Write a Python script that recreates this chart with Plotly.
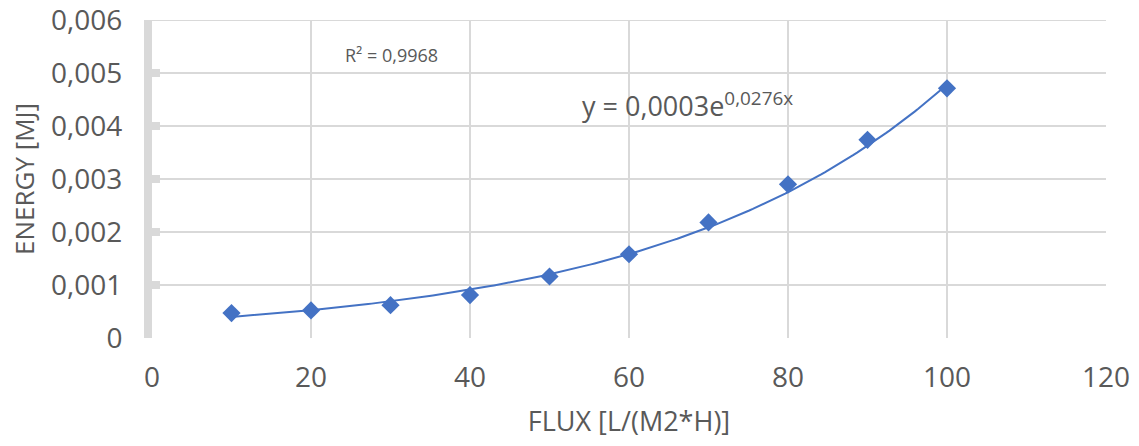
import numpy as np
import plotly.graph_objects as go

flux = [10, 20, 30, 40, 50, 60, 70, 80, 90, 100]
energy = [0.00047, 0.00052, 0.00062, 0.00081, 0.00116, 0.00158, 0.00218, 0.0029, 0.00374, 0.00471]
x_ticks = [0, 20, 40, 60, 80, 100, 120]
y_ticks = [0, 0.001, 0.002, 0.003, 0.004, 0.005, 0.006]
y_tick_text = ["0", "0,001", "0,002", "0,003", "0,004", "0,005", "0,006"]
eq_text = "y = 0,0003e<sup>0,0276x</sup>"
r2_text = "R² = 0,9968"

# Exponential trendline fitted to the data (as Excel does)
b, ln_a = np.polyfit(np.array(flux, float), np.log(np.array(energy)), 1)
xf = np.linspace(min(flux), max(flux), 200)
yf = np.exp(ln_a) * np.exp(b * xf)

blue = "#4472C4"
grid = "#D9D9D9"
txt = "#595959"
font = "Open Sans"

fig = go.Figure()
fig.add_trace(go.Scatter(x=xf, y=yf, mode="lines", line=dict(color=blue, width=2),
                         hoverinfo="skip", showlegend=False))
fig.add_trace(go.Scatter(x=flux, y=energy, mode="markers",
                         marker=dict(symbol="diamond", size=14, color=blue),
                         showlegend=False))

# top gridline (plotly drops the gridline lying on the plot edge)
fig.add_shape(type="line", xref="paper", yref="y", x0=0, x1=1,
              y0=y_ticks[-1], y1=y_ticks[-1], layer="below",
              line=dict(color=grid, width=2))

fig.add_annotation(x=24, y=0.00534, text=r2_text, showarrow=False, xref="x", yref="y",
                   xanchor="left", yanchor="middle",
                   font=dict(family=font, size=18, color=txt))
fig.add_annotation(x=53.8, y=0.0044, text=eq_text, showarrow=False, xref="x", yref="y",
                   xanchor="left", yanchor="middle",
                   font=dict(family=font, size=27, color=txt))

fig.update_layout(
    width=1139, height=446,
    margin=dict(l=152, r=33, t=20, b=108, autoexpand=False),
    paper_bgcolor="white", plot_bgcolor="white",
    font=dict(family=font, color=txt),
)
fig.update_xaxes(range=[0, 120], tickvals=x_ticks, ticktext=[str(v) for v in x_ticks],
                 showgrid=True, gridcolor=grid, gridwidth=2, zeroline=False,
                 showline=False, ticks="", tickfont=dict(family=font, size=28, color=txt),
                 ticklabelstandoff=20, ticklabeloverflow="allow",
                 title=dict(text="FLUX [L/(M2*H)]", font=dict(family=font, size=27, color=txt),
                            standoff=18))
fig.update_yaxes(range=[0, 0.006], tickvals=y_ticks, ticktext=y_tick_text,
                 showgrid=True, gridcolor=grid, gridwidth=2, zeroline=False,
                 showline=True, linecolor=grid, linewidth=8,
                 ticks="inside", ticklen=8, tickwidth=8, tickcolor=grid,
                 tickfont=dict(family=font, size=28, color=txt),
                 ticklabelstandoff=16, ticklabeloverflow="allow",
                 title=dict(text="ENERGY [MJ]", font=dict(family=font, size=26, color=txt),
                            standoff=12))

fig.write_html("out.html", config={"displayModeBar": False},
               post_script="document.body.style.margin='0';")
